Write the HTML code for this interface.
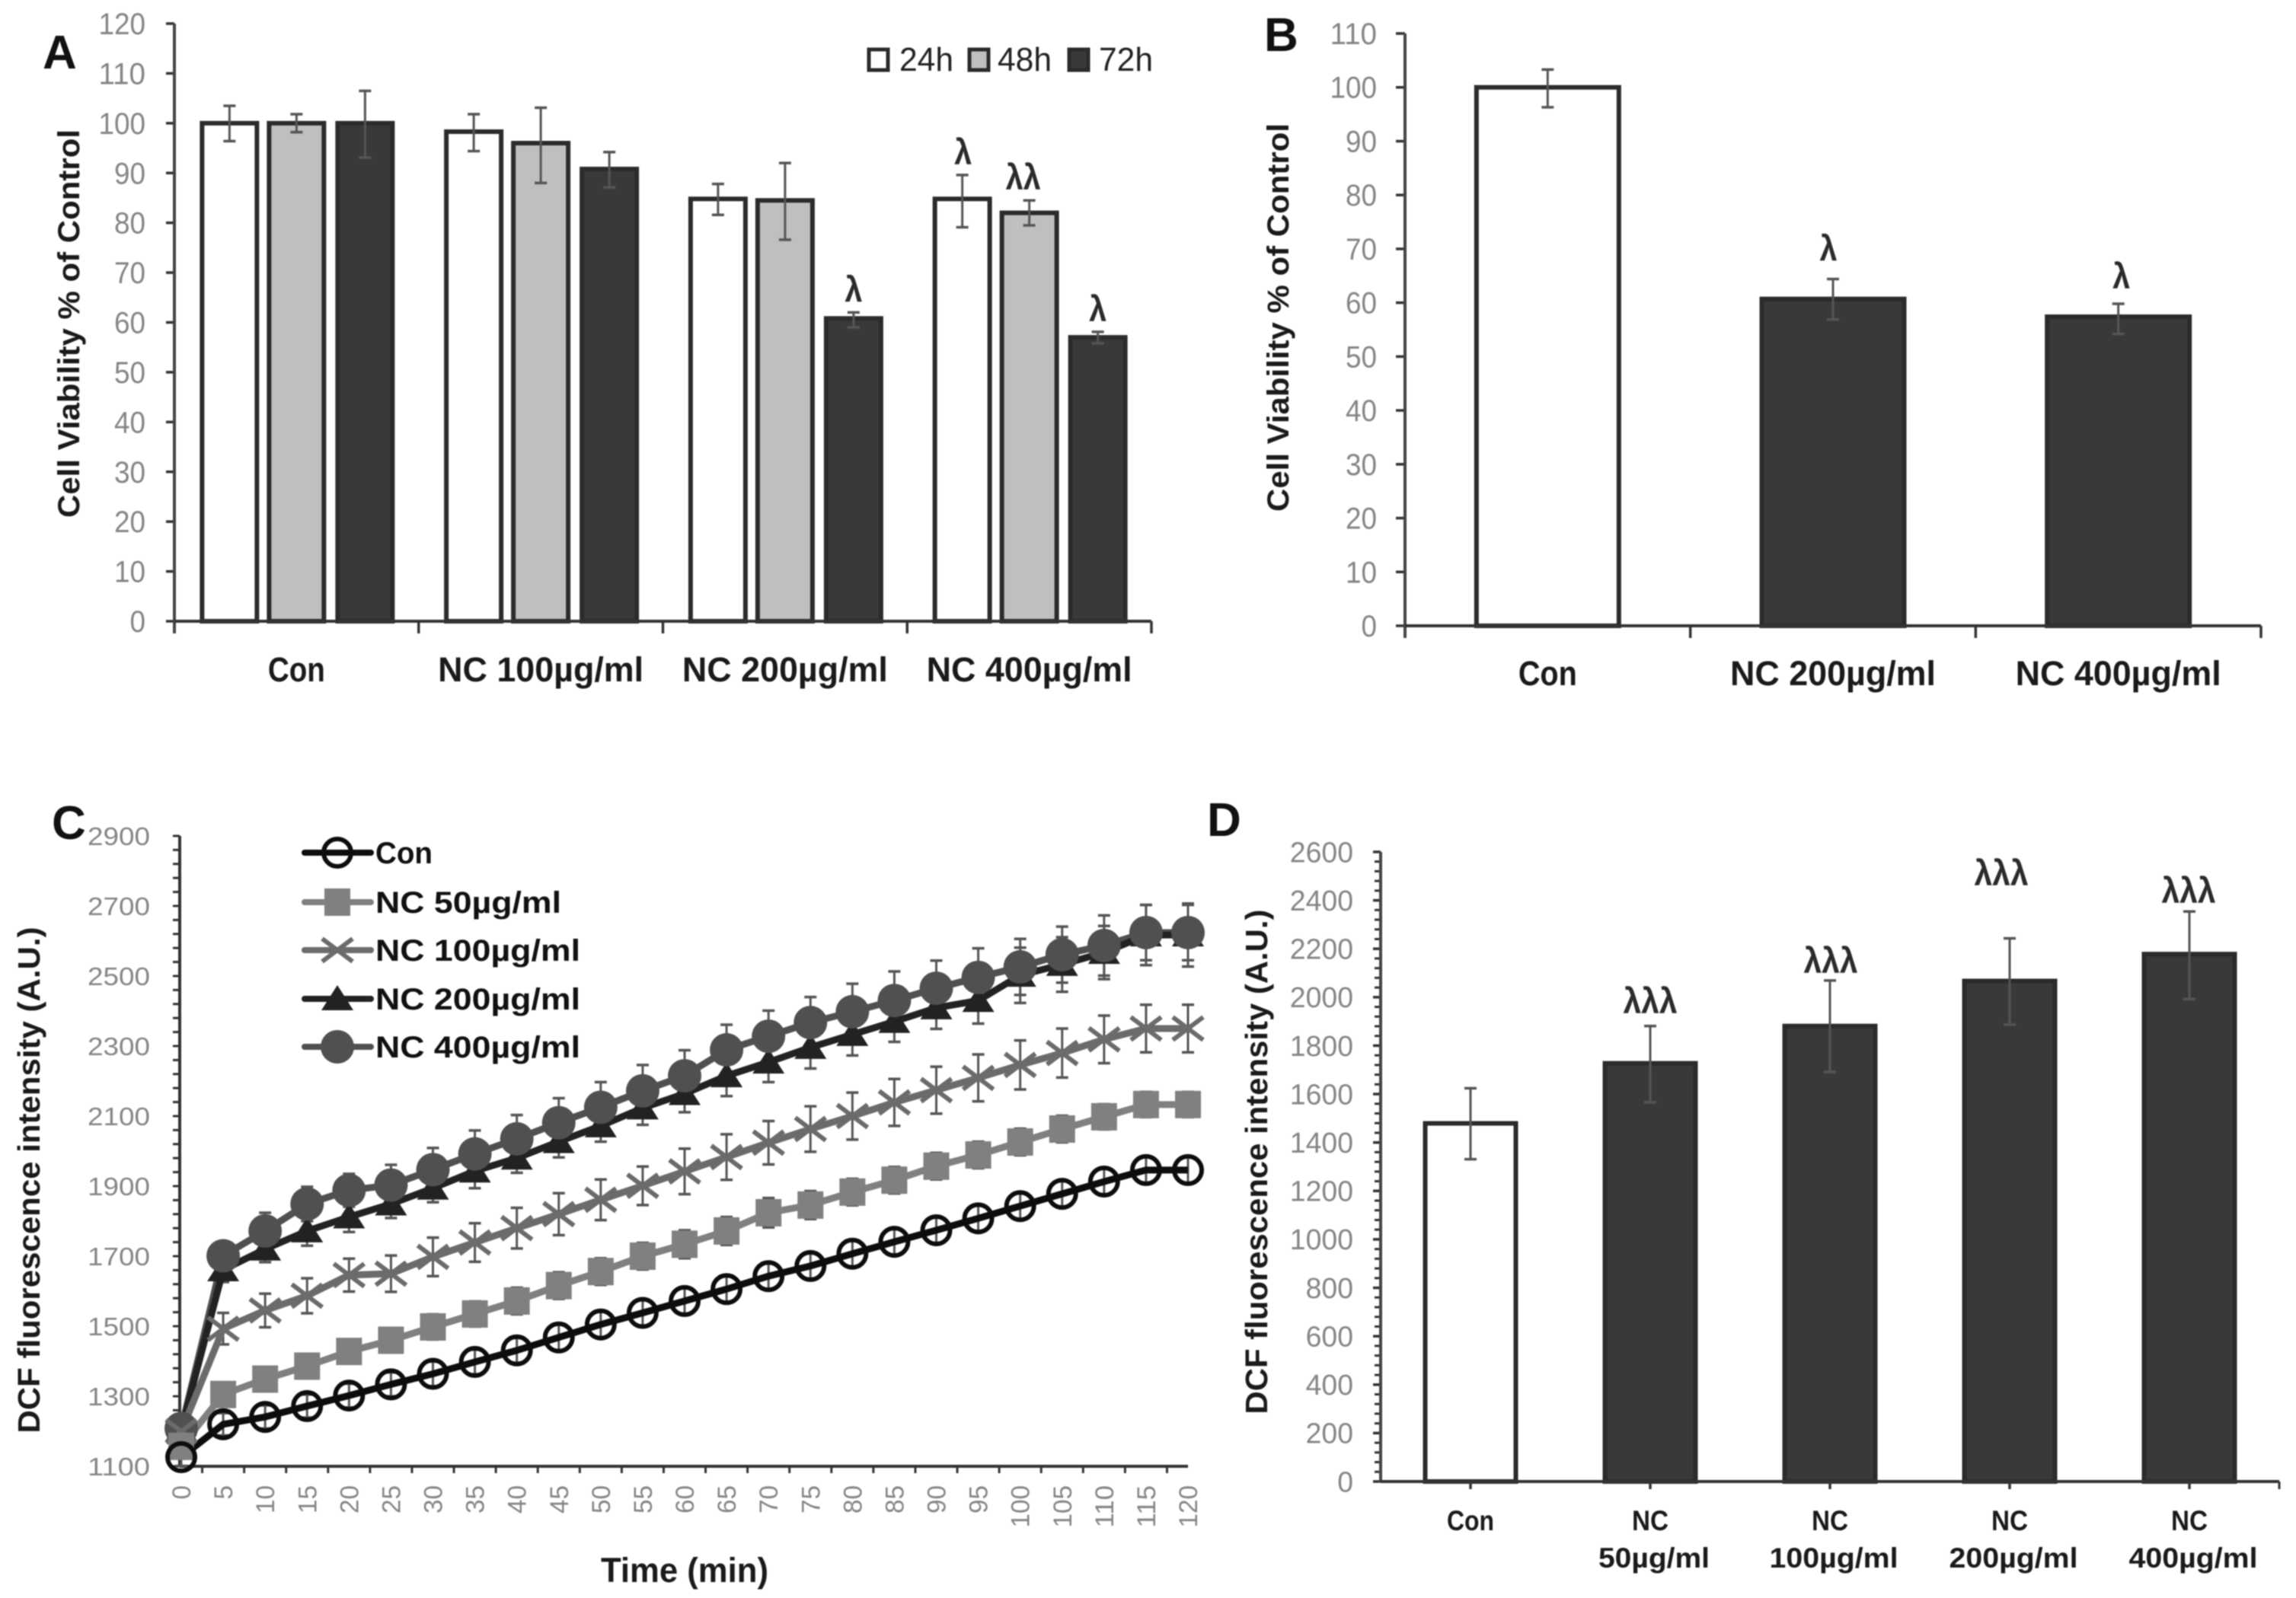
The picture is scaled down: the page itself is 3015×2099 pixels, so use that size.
<!DOCTYPE html>
<html lang="en">
<head>
<meta charset="utf-8">
<title>Cell viability and DCF fluorescence charts</title>
<style>
html,body{margin:0;padding:0;background:#fff;}
svg{display:block;font-family:"Liberation Sans",sans-serif;filter:blur(0.8px);}
</style>
</head>
<body>
<svg id="figure" xmlns="http://www.w3.org/2000/svg" width="3015" height="2099" viewBox="0 0 3015 2099">
<rect x="0" y="0" width="3015" height="2099" fill="#ffffff"/>
<g id="panelA"></g>
<g id="panelB"></g>
<g id="panelC"></g>
<g id="panelD"></g>
</svg>
<script>
/* Panel A data */
const aCategories = ['Con', 'NC 100µg/ml', 'NC 200µg/ml', 'NC 400µg/ml'];
const aSeriesNames = ['24h', '48h', '72h'];
const a24h = [100, 98.3, 84.8, 84.8];
const a48h = [100, 96, 84.5, 82];
const a72h = [100, 90.8, 60.8, 57];
const a24hHigh = [103.5, 101.8, 87.8, 89.6];
const a24hLow = [96.4, 94.4, 81.6, 79.1];
const a48hHigh = [101.8, 103.1, 92, 84.5];
const a48hLow = [98.2, 88, 76.6, 79.5];
const a72hHigh = [106.5, 94.2, 62, 58.1];
const a72hLow = [93.1, 87.1, 59, 55.8];
const aTicks = [0, 10, 20, 30, 40, 50, 60, 70, 80, 90, 100, 110, 120];
const aSig24h = ['', '', '', 'λ'];
const aSig48h = ['', '', '', 'λλ'];
const aSig72h = ['', '', 'λ', 'λ'];

/* Panel B data */
const bCategories = ['Con', 'NC 200µg/ml', 'NC 400µg/ml'];
const bValues = [100, 60.7, 57.4];
const bHigh = [103.3, 64.4, 59.8];
const bLow = [96.3, 56.9, 54.2];
const bTicks = [0, 10, 20, 30, 40, 50, 60, 70, 80, 90, 100, 110];
const bSig = ['', 'λ', 'λ'];

/* Panel C data */
const cTimes = [0, 5, 10, 15, 20, 25, 30, 35, 40, 45, 50, 55, 60, 65, 70, 75, 80, 85, 90, 95, 100, 105, 110, 115, 120];
const cTicks = [1100, 1300, 1500, 1700, 1900, 2100, 2300, 2500, 2700, 2900];
const cCon = [1126, 1220, 1241, 1272, 1302, 1334, 1364, 1398, 1431, 1468, 1505, 1538, 1572, 1606, 1643, 1672, 1707, 1741, 1774, 1808, 1843, 1878, 1913, 1946, 1946];
const cNc50 = [1157, 1305, 1349, 1386, 1428, 1460, 1498, 1535, 1572, 1616, 1656, 1700, 1734, 1772, 1824, 1846, 1883, 1917, 1957, 1989, 2026, 2063, 2098, 2133, 2133];
const cNc100 = [1200, 1493, 1545, 1587, 1646, 1650, 1698, 1739, 1780, 1820, 1861, 1901, 1942, 1983, 2024, 2063, 2100, 2139, 2174, 2209, 2246, 2280, 2319, 2350, 2350];
const cNc200 = [1205, 1661, 1720, 1772, 1812, 1849, 1894, 1943, 1980, 2027, 2072, 2123, 2164, 2215, 2254, 2296, 2333, 2370, 2409, 2430, 2502, 2533, 2567, 2617, 2617];
const cNc400 = [1208, 1701, 1772, 1849, 1888, 1903, 1947, 1992, 2035, 2081, 2125, 2172, 2215, 2289, 2328, 2367, 2398, 2430, 2465, 2496, 2526, 2561, 2587, 2624, 2624];
const cConErr = [25, 32, 33, 33, 34, 34, 35, 35, 35, 36, 36, 36, 36, 36, 36, 36, 36, 36, 36, 36, 36, 36, 36, 36, 36];
const cNc50Err = [20, 30, 32, 34, 34, 35, 36, 36, 38, 38, 38, 38, 40, 40, 42, 40, 38, 38, 38, 38, 38, 38, 36, 36, 36];
const cNc100Err = [20, 45, 48, 50, 47, 52, 55, 55, 58, 60, 58, 55, 65, 65, 62, 65, 67, 67, 67, 67, 70, 70, 68, 68, 68];
const cNc200Err = [20, 35, 37, 42, 43, 40, 40, 49, 42, 45, 45, 48, 53, 58, 57, 60, 60, 58, 60, 66, 79, 78, 76, 86, 90];
const cNc400Err = [20, 30, 52, 49, 47, 58, 62, 67, 68, 70, 72, 74, 73, 72, 73, 73, 80, 83, 79, 83, 80, 80, 86, 79, 79];
const cLegendNames = ['Con', 'NC 50µg/ml', 'NC 100µg/ml', 'NC 200µg/ml', 'NC 400µg/ml'];

/* Panel D data */
const dCategoriesTop = ['Con', 'NC', 'NC', 'NC', 'NC'];
const dCategoriesBottom = ['', '50µg/ml', '100µg/ml', '200µg/ml', '400µg/ml'];
const dValues = [1479, 1727, 1881, 2067, 2178];
const dHigh = [1624, 1881, 2069, 2243, 2354];
const dLow = [1331, 1566, 1691, 1887, 1992];
const dTicks = [0, 200, 400, 600, 800, 1000, 1200, 1400, 1600, 1800, 2000, 2200, 2400, 2600];
const dSig = ['', 'λλλ', 'λλλ', 'λλλ', 'λλλ'];

const NS = 'http://www.w3.org/2000/svg';
function mk(parent, tag, attrs, text) {
  const el = document.createElementNS(NS, tag);
  for (const k in attrs) el.setAttribute(k, attrs[k]);
  if (text !== undefined) el.textContent = text;
  parent.appendChild(el);
  return el;
}
function line(parent, x1, y1, x2, y2, stroke, w) {
  return mk(parent, 'line', {x1: x1, y1: y1, x2: x2, y2: y2, stroke: stroke, 'stroke-width': w});
}
const panelA = document.getElementById('panelA');
const panelB = document.getElementById('panelB');
const panelC = document.getElementById('panelC');
const panelD = document.getElementById('panelD');
const AXIS = '#333333', TICKTXT = '#858585', ERR = '#555555', DARK = '#393939', EDGE = '#2b2b2b', GRAY = '#bfbfbf', INK = '#1a1a1a';

function panelLetter(parent, letter, x, y) {
  const el = mk(parent, 'text', {x: x, y: y, 'font-size': 62, 'font-weight': 'bold', fill: '#111'}, letter);
  
  
}
function yTitle(parent, txt, x, cy, len, size) {
  const el = mk(parent, 'text', {x: x, y: cy, transform: 'rotate(-90 ' + x + ' ' + cy + ')', 'text-anchor': 'middle', 'font-size': size, 'font-weight': 'bold', fill: INK, textLength: len, lengthAdjust: 'spacingAndGlyphs'}, txt);
  
  
}
function yTickLabels(parent, ticks, yFn, right, digitW, size, tickX1, tickX2) {
  ticks.forEach(function (t) {
    const lab = mk(parent, 'text', {x: right, y: yFn(t) + size * 0.35, 'text-anchor': 'end', 'font-size': size, fill: TICKTXT, textLength: String(t).length * digitW, lengthAdjust: 'spacingAndGlyphs'}, String(t));
    
    
    const tk = line(parent, tickX1, yFn(t), tickX2, yFn(t), AXIS, 3.5);
    
    
  });
}
function drawBar(parent, cx, width, value, yFn, fill, stroke) {
  const top = yFn(value), base = yFn(0);
  const r = mk(parent, 'rect', {x: cx - width / 2, y: top, width: width, height: base - top, fill: fill, stroke: stroke, 'stroke-width': 6});
  
  
}
function drawErr(parent, cx, hi, lo, yFn, cap) {
  const v = line(parent, cx, yFn(hi), cx, yFn(lo), ERR, 3);
  
  
  const c1 = line(parent, cx - cap, yFn(hi), cx + cap, yFn(hi), ERR, 3.5);
  
  
  const c2 = line(parent, cx - cap, yFn(lo), cx + cap, yFn(lo), ERR, 3.5);
  
  
}
function sigLabel(parent, txt, x, y, len) {
  if (!txt) return;
  const el = mk(parent, 'text', {x: x, y: y, 'text-anchor': 'middle', 'font-size': 47, 'font-weight': 'bold', fill: '#2b2b2b', textLength: len, lengthAdjust: 'spacingAndGlyphs'}, txt);
  
  
}
function catLabel(parent, txt, cx, y, len, size) {
  if (!txt) return;
  const el = mk(parent, 'text', {x: cx, y: y, 'text-anchor': 'middle', 'font-size': size, 'font-weight': 'bold', fill: INK, textLength: len, lengthAdjust: 'spacingAndGlyphs'}, txt);
  
  
}
function axisLines(parent, x0, yTop, xEnd, yBase, tickBottom) {
  const ya = line(parent, x0, yTop, x0, tickBottom, '#444', 4);
  
  
  const xa = line(parent, x0, yBase, xEnd, yBase, AXIS, 4);
  
  
}

/* ---------- Panel A ---------- */
(function () {
  const x0 = 229, x1 = 1512, yBase = 816, yTop = 31;
  const y = function (v) { return yBase - (v / 120) * (yBase - yTop); };
  const band = (x1 - x0) / aCategories.length;
  const xc = function (i) { return x0 + band * (i + 0.5); };
  const offsets = [-88, 0, 90];
  const fills = ['#ffffff', GRAY, DARK];
  const series = [a24h, a48h, a72h];
  const highs = [a24hHigh, a48hHigh, a72hHigh];
  const lows = [a24hLow, a48hLow, a72hLow];
  const sigs = [aSig24h, aSig48h, aSig72h];
  const sigNudge = [1, -8, 0];
  yTickLabels(panelA, aTicks, y, 191, 20.5, 40, 218, 229);
  series.forEach(function (vals, s) {
    vals.forEach(function (v, i) {
      drawBar(panelA, xc(i) + offsets[s], 72, v, y, fills[s], EDGE);
    });
  });
  axisLines(panelA, x0, yTop, x1, yBase, yBase + 16);
  aCategories.forEach(function (c, i) {
    const t = line(panelA, x0 + band * (i + 1), yBase, x0 + band * (i + 1), yBase + 16, AXIS, 3.5);
    
    
    catLabel(panelA, c, xc(i), 895, i === 0 ? 75 : 270, 45);
  });
  series.forEach(function (vals, s) {
    vals.forEach(function (v, i) {
      drawErr(panelA, xc(i) + offsets[s], highs[s][i], lows[s][i], y, 8);
      sigLabel(panelA, sigs[s][i], xc(i) + offsets[s] + sigNudge[s], y(highs[s][i]) - 14, sigs[s][i].length * 23);
    });
  });
  yTitle(panelA, 'Cell Viability % of Control', 104, 425, 510, 40);
  panelLetter(panelA, 'A', 56, 90);
  const boxX = [1139, 1271, 1402], txtX = [1181, 1310, 1443];
  aSeriesNames.forEach(function (n, s) {
    const b = mk(panelA, 'rect', {x: boxX[s] + 2, y: 65, width: 25, height: 27, fill: fills[s], stroke: EDGE, 'stroke-width': 5});
    
    
    const t = mk(panelA, 'text', {x: txtX[s], y: 93, 'font-size': 44, fill: '#222', textLength: 71, lengthAdjust: 'spacingAndGlyphs'}, n);
    
    
  });
})();

/* ---------- Panel B ---------- */
(function () {
  const x0 = 1845, x1 = 2969, yBase = 822, yTop = 44;
  const y = function (v) { return yBase - (v / 110) * (yBase - yTop); };
  const band = (x1 - x0) / bCategories.length;
  const xc = function (i) { return x0 + band * (i + 0.5); };
  yTickLabels(panelB, bTicks, y, 1808, 20.5, 40, 1833, 1845);
  bValues.forEach(function (v, i) {
    drawBar(panelB, xc(i), 187, v, y, i === 0 ? '#ffffff' : DARK, EDGE);
  });
  axisLines(panelB, x0, yTop, x1, yBase, yBase + 16);
  bCategories.forEach(function (c, i) {
    const t = line(panelB, x0 + band * (i + 1), yBase, x0 + band * (i + 1), yBase + 16, AXIS, 3.5);
    
    
    catLabel(panelB, c, xc(i), 900, i === 0 ? 77 : 270, 45);
    drawErr(panelB, xc(i), bHigh[i], bLow[i], y, 8);
    sigLabel(panelB, bSig[i], xc(i) - (i === 1 ? 6 : -4), y(bHigh[i]) - (i === 1 ? 24 : 20), 23);
  });
  yTitle(panelB, 'Cell Viability % of Control', 1692, 417, 510, 40);
  panelLetter(panelB, 'B', 1660, 67);
})();

/* ---------- Panel C ---------- */
(function () {
  const yBase = 1926, yTop = 1098, xAxis = 236;
  const x = function (t) { return 238 + (t / 120) * 1322; };
  const y = function (v) { return yBase - ((v - 1100) / 1800) * (yBase - yTop); };
  /* minor ticks every 40 units */
  for (let v = 1100; v <= 2900; v += 40) {
    const m = line(panelC, 227, y(v), xAxis, y(v), AXIS, 3);
    
    
  }
  cTicks.forEach(function (t) {
    const lab = mk(panelC, 'text', {x: 197, y: y(t) + 12, 'text-anchor': 'end', 'font-size': 33, fill: TICKTXT, textLength: 82, lengthAdjust: 'spacingAndGlyphs'}, String(t));
    
    
  });
  const ya = line(panelC, xAxis, yTop, xAxis, yBase, AXIS, 4);
  
  
  const xa = line(panelC, xAxis, yBase, x(120), yBase, AXIS, 4);
  
  
  cTimes.forEach(function (t, i) {
    if (i < cTimes.length - 1) {
      const xm = (x(t) + x(cTimes[i + 1])) / 2;
      const tk = line(panelC, xm, yBase, xm, yBase + 9, AXIS, 3);
      
      
    }
    const px = x(t) + 12, py = 1951;
    const lab = mk(panelC, 'text', {x: px, y: py, transform: 'rotate(-90 ' + px + ' ' + py + ')', 'text-anchor': 'end', 'font-size': 34, fill: TICKTXT, textLength: String(t).length * 18.5, lengthAdjust: 'spacingAndGlyphs'}, String(t));
    
    
  });

  const colors = {con: '#0d0d0d', n50: '#808080', n100: '#6b6b6b', n200: '#222222', n400: '#505050'};
  function marker(g, kind, mx, my) {
    let el;
    if (kind === 'con') {
      el = mk(g, 'circle', {cx: mx, cy: my, r: 18, fill: 'none', stroke: colors.con, 'stroke-width': 6});
    } else if (kind === 'n50') {
      el = mk(g, 'rect', {x: mx - 17, y: my - 18, width: 34, height: 36, fill: colors.n50});
    } else if (kind === 'n100') {
      el = mk(g, 'path', {d: 'M' + (mx - 20) + ' ' + (my - 15) + 'L' + (mx + 20) + ' ' + (my + 15) + 'M' + (mx - 20) + ' ' + (my + 15) + 'L' + (mx + 20) + ' ' + (my - 15), fill: 'none', stroke: colors.n100, 'stroke-width': 6});
    } else if (kind === 'n200') {
      el = mk(g, 'polygon', {points: mx + ',' + (my - 18) + ' ' + (mx - 21) + ',' + (my + 15) + ' ' + (mx + 21) + ',' + (my + 15), fill: colors.n200});
    } else {
      el = mk(g, 'circle', {cx: mx, cy: my, r: 22, fill: colors.n400});
    }
    
    
  }
  function seriesLine(kind, vals, g) {
    const pts = vals.map(function (v, i) { return x(cTimes[i]) + ',' + y(v); }).join(' ');
    const p = mk(g, 'polyline', {points: pts, fill: 'none', stroke: colors[kind], 'stroke-width': 9, 'stroke-linejoin': 'round'});
    
    
  }
  function seriesErr(vals, errs, g) {
    vals.forEach(function (v, i) {
      drawErr(g, x(cTimes[i]), v + errs[i], v - errs[i], y, 8);
    });
  }
  const lines = mk(panelC, 'g', {});
  
  
  seriesErr(cNc400, cNc400Err, lines);
  seriesErr(cNc200, cNc200Err, lines);
  seriesErr(cNc100, cNc100Err, lines);
  seriesErr(cNc50, cNc50Err, lines);
  seriesErr(cCon, cConErr, lines);
  seriesLine('n400', cNc400, lines);
  seriesLine('n200', cNc200, lines);
  seriesLine('n100', cNc100, lines);
  seriesLine('n50', cNc50, lines);
  seriesLine('con', cCon, lines);
  cNc200.forEach(function (v, i) { marker(lines, 'n200', x(cTimes[i]), y(v)); });
  cNc400.forEach(function (v, i) { marker(lines, 'n400', x(cTimes[i]), y(v)); });
  cNc100.forEach(function (v, i) { marker(lines, 'n100', x(cTimes[i]), y(v)); });
  cNc50.forEach(function (v, i) { marker(lines, 'n50', x(cTimes[i]), y(v)); });
  cCon.forEach(function (v, i) { marker(lines, 'con', x(cTimes[i]), y(v)); });

  const kinds = ['con', 'n50', 'n100', 'n200', 'n400'];
  const legY = [1120, 1185, 1248, 1312, 1375];
  const legLen = [75, 244, 269, 269, 269];
  cLegendNames.forEach(function (n, i) {
    const k = kinds[i];
    const l = mk(panelC, 'line', {x1: 400, y1: legY[i], x2: 487, y2: legY[i], stroke: colors[k], 'stroke-width': 8, 'stroke-linecap': 'round'});
    
    
    marker(panelC, k, 443, legY[i]);
    const t = mk(panelC, 'text', {x: 493, y: legY[i] + 14, 'font-size': 40, 'font-weight': 'bold', fill: '#111', textLength: legLen[i], lengthAdjust: 'spacingAndGlyphs'}, n);
    
    
  });
  yTitle(panelC, 'DCF fluorescence intensity (A.U.)', 52, 1550, 665, 41);
  const xt = mk(panelC, 'text', {x: 899, y: 2078, 'text-anchor': 'middle', 'font-size': 45, 'font-weight': 'bold', fill: INK, textLength: 220, lengthAdjust: 'spacingAndGlyphs'}, 'Time (min)');
  
  
  panelLetter(panelC, 'C', 68, 1102);
})();

/* ---------- Panel D ---------- */
(function () {
  const x0 = 1813, x1 = 2993, yBase = 1946, yTop = 1119;
  const y = function (v) { return yBase - (v / 2600) * (yBase - yTop); };
  const band = (x1 - x0) / dValues.length;
  const xc = function (i) { return x0 + band * (i + 0.5); };
  for (let v = 0; v <= 2600; v += 40) {
    const m = line(panelD, 1805, y(v), x0, y(v), AXIS, 3);
    
    
  }
  yTickLabels(panelD, dTicks, y, 1777, 20.8, 38, 1803, 1813);
  dValues.forEach(function (v, i) {
    drawBar(panelD, xc(i), 119, v, y, i === 0 ? '#ffffff' : DARK, EDGE);
  });
  axisLines(panelD, x0, yTop, x1, yBase, yBase);
  const sigX = [0, 0, 1, -11, -1];
  const sigY = [0, 1315, 1262, 1147, 1170];
  dValues.forEach(function (v, i) {
    const t = line(panelD, xc(i), yBase, xc(i), yBase + 10, AXIS, 3.5);
    
    
    catLabel(panelD, dCategoriesTop[i], xc(i), 2010, i === 0 ? 62 : 48, 37);
    catLabel(panelD, dCategoriesBottom[i], xc(i) + 5, 2059, i === 1 ? 146 : 169, 37);
    drawErr(panelD, xc(i), dHigh[i], dLow[i], y, 8);
    sigLabel(panelD, dSig[i], xc(i) + sigX[i], sigY[i] + 16, 71);
  });
  const xe = line(panelD, x1, yBase, x1, yBase + 10, AXIS, 3);
  
  
  yTitle(panelD, 'DCF fluorescence intensity (A.U.)', 1664, 1526, 663, 41);
  panelLetter(panelD, 'D', 1585, 1098);
})();
</script>
</body>
</html>
